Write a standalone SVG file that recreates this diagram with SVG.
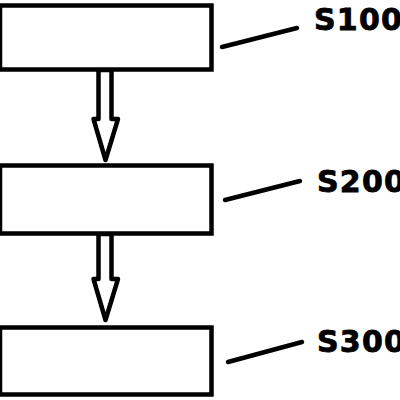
<svg xmlns="http://www.w3.org/2000/svg" width="400" height="400" viewBox="0 0 400 400">
<style>
.box{fill:#fff;stroke:#000;stroke-width:4.5}
.arrow{fill:#fff;stroke:#000;stroke-width:4.5;stroke-linejoin:round}
.lead{stroke:#000;stroke-width:4.5;stroke-linecap:round}
.lbl{font-family:"DejaVu Sans",Verdana,sans-serif;font-weight:bold;font-size:30px;letter-spacing:1.2px;fill:#000;stroke:#000;stroke-width:0.8}
</style>
<rect width="400" height="400" fill="#fff"/>
<g id="connectors">
<polygon class="arrow" points="98.5,70 98.5,119 93.5,119 105.5,160 118,119 111.5,119 111.5,70"/>
<polygon class="arrow" points="98.5,234 98.5,279 93.5,279 105.5,320 118,279 111.5,279 111.5,234"/>
<line class="lead" x1="222" y1="47" x2="297" y2="28"/>
<line class="lead" x1="225" y1="200" x2="300" y2="181"/>
<line class="lead" x1="228" y1="362" x2="302" y2="342"/>
</g>
<g id="s100">
<rect class="box" x="0" y="5.5" width="211.5" height="64"/>
<text class="lbl" x="314" y="30">S100</text>
</g>
<g id="s200">
<rect class="box" x="0" y="165.5" width="211.5" height="68"/>
<text class="lbl" x="317" y="192">S200</text>
</g>
<g id="s300">
<rect class="box" x="0" y="327.5" width="211.5" height="67"/>
<text class="lbl" x="317" y="352">S300</text>
</g>
</svg>
